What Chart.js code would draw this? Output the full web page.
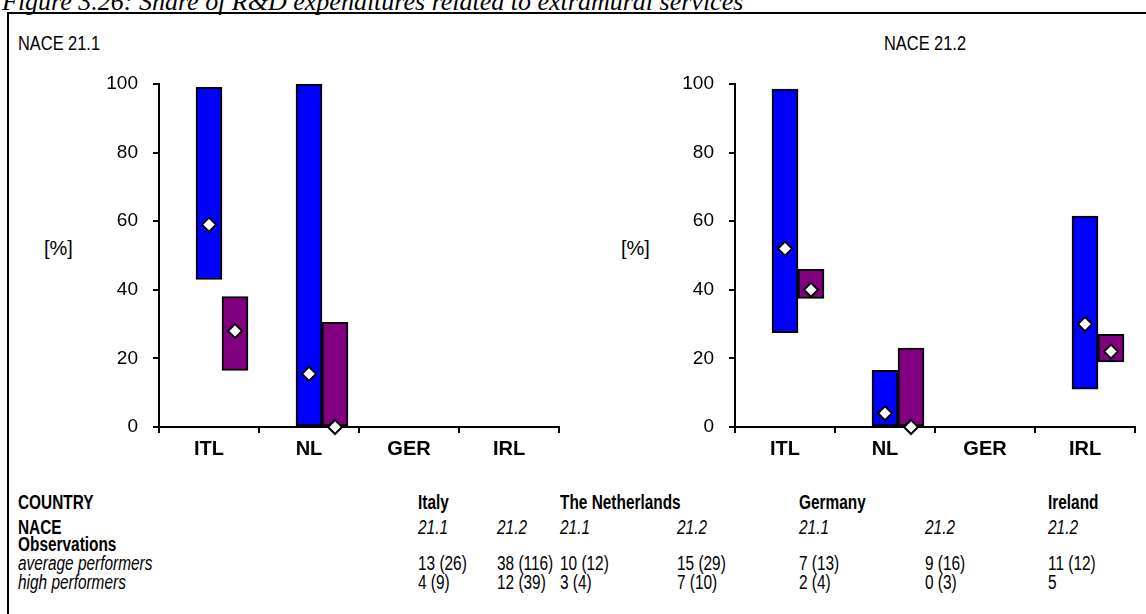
<!DOCTYPE html>
<html>
<head>
<meta charset="utf-8">
<script src="https://cdn.jsdelivr.net/npm/chart.js@4.4.1/dist/chart.umd.min.js"></script>
<style>
  body { margin: 0; width: 1146px; height: 614px; overflow: hidden; background: #fff; position: relative; font-family: 'Liberation Sans', Arial, sans-serif; color: #000; }
  .title { position: absolute; left: 2px; top: -11px; font: italic 26px/26px 'Liberation Serif', 'Times New Roman', serif; white-space: nowrap; }
  .frame { position: absolute; left: 7px; top: 12px; width: 1200px; height: 700px; border-left: 2px solid #000; border-top: 2px solid #000; background: transparent; }
  canvas { position: absolute; top: 0; }
  .lbl { position: absolute; white-space: nowrap; }
  .narrow { transform: scaleX(0.82); transform-origin: left top; font-size: 20px; line-height: 20px; }
  .pct { font-size: 20px; line-height: 20px; }
  .cell { position: absolute; white-space: nowrap; transform: scaleX(0.77); transform-origin: left top; font-size: 20px; line-height: 20px; }
  .b { font-weight: bold; }
  .i { font-style: italic; }
</style>
</head>
<body>
<div class="title">Figure 3.26: Share of R&amp;D expenditures related to extramural services</div>
<div class="frame"></div>
<div class="lbl narrow" style="left:18px; top:33px;">NACE 21.1</div>
<div class="lbl narrow" style="left:884px; top:33px;">NACE 21.2</div>
<div class="lbl pct" style="left:44px; top:238px;">[%]</div>
<div class="lbl pct" style="left:621px; top:238px;">[%]</div>
<canvas id="nace211" width="580" height="480" style="left:0px;"></canvas>
<canvas id="nace212" width="566" height="480" style="left:580px;"></canvas>
<div id="table"></div>
<script>
const categories = ['ITL', 'NL', 'GER', 'IRL'];
const yTicks = [0, 20, 40, 60, 80, 100];

// NACE 21.1 : range (min-max) and mean per country
const avg211Range = [[43, 99], [0, 100], null, null];
const avg211Mean = [59, 15.5, null, null];
const high211Range = [[16.5, 38], [0, 30.5], null, null];
const high211Mean = [28, 0, null, null];

// NACE 21.2
const avg212Range = [[27.5, 98.5], [0, 16.5], null, [11, 61.5]];
const avg212Mean = [52, 4, null, 30];
const high212Range = [[37.5, 46], [0, 23], null, [19, 27]];
const high212Mean = [40, 0, null, 22];

// table below the charts
const countries = ['Italy', 'The Netherlands', 'Germany', 'Ireland'];
const naceCols = ['21.1', '21.2', '21.1', '21.2', '21.1', '21.2', '21.2'];
const avgPerformers = ['13 (26)', '38 (116)', '10 (12)', '15 (29)', '7 (13)', '9 (16)', ' 11 (12)'];
const highPerformers = ['4 (9)', '12 (39)', '3 (4)', '7 (10)', '2 (4)', '0 (3)', '5'];

// one bar = 0.26 of a category; blue sits on the category centre, purple right of it
const barFrac = 0.26;

function toPoints(values, shift) {
  const pts = [];
  values.forEach(function (v, i) {
    if (v !== null) pts.push({ x: i + shift, y: v });
  });
  return pts;
}

function makeChart(id, axisWidth, padRight, avgRange, avgMean, highRange, highMean) {
  const canvas = document.getElementById(id);
  const plotWidth = canvas.width - axisWidth - padRight;
  const barPx = plotWidth / categories.length * barFrac;
  const groupShift = barFrac / 2;
  const diamond = {
    type: 'line',
    pointStyle: 'rectRot',
    pointRadius: 7,
    pointHoverRadius: 7,
    pointBackgroundColor: '#fff',
    pointBorderColor: '#000',
    pointBorderWidth: 2,
    showLine: false,
    clip: false,
    order: 0,
    xAxisID: 'x2'
  };
  const bar = {
    borderColor: '#000',
    borderWidth: 2,
    borderSkipped: false,
    barThickness: barPx,
    clip: false,
    order: 1,
    xAxisID: 'x2'
  };
  return new Chart(canvas.getContext('2d'), {
    type: 'bar',
    data: {
      labels: categories,
      datasets: [
        Object.assign({ label: 'average performers', data: toPoints(avgRange, groupShift), backgroundColor: '#0000ff' }, bar),
        Object.assign({ label: 'high performers', data: toPoints(highRange, groupShift), backgroundColor: '#800080' }, bar),
        Object.assign({ label: 'average mean', data: toPoints(avgMean, 0) }, diamond),
        Object.assign({ label: 'high mean', data: toPoints(highMean, barFrac) }, diamond)
      ]
    },
    options: {
      responsive: false,
      animation: false,
      layout: { padding: { top: 84, right: padRight, left: 0, bottom: 0 } },
      plugins: {
        legend: { display: false },
        tooltip: { enabled: false }
      },
      scales: {
        x: {
          type: 'category',
          offset: true,
          grid: {
            display: true,
            drawOnChartArea: false,
            drawTicks: true,
            tickLength: 6,
            color: '#000',
            lineWidth: 2,
            offset: true
          },
          border: { display: true, color: '#000', width: 2 },
          ticks: {
            color: '#000',
            padding: 4,
            font: { family: "'Liberation Sans', Arial, sans-serif", size: 20, weight: 'bold' }
          },
          afterFit: function (s) { s.height = 53; }
        },
        x2: {
          type: 'linear',
          display: false,
          offset: false,
          grid: { offset: false },
          min: -0.5,
          max: categories.length - 0.5
        },
        y: {
          min: 0,
          max: 100,
          afterBuildTicks: function (s) { s.ticks = yTicks.map(function (v) { return { value: v }; }); },
          grid: {
            display: true,
            drawOnChartArea: false,
            drawTicks: true,
            tickLength: 6,
            color: '#000',
            lineWidth: 2
          },
          border: { display: true, color: '#000', width: 2 },
          ticks: {
            color: '#000',
            padding: 15,
            font: { family: "'Liberation Sans', Arial, sans-serif", size: 19 }
          },
          afterFit: function (s) { s.width = axisWidth; }
        }
      }
    }
  });
}

makeChart('nace211', 159, 21, avg211Range, avg211Mean, high211Range, high211Mean);
makeChart('nace212', 155, 11, avg212Range, avg212Mean, high212Range, high212Mean);

// table
const colX = [418, 497, 560, 677, 799, 925, 1048];
const countryCol = [0, 2, 4, 6];
const rowTop = [492, 517, 534, 553, 572];
const table = document.getElementById('table');
function cell(text, x, y, cls) {
  const d = document.createElement('div');
  d.className = 'cell ' + (cls || '');
  d.style.left = x + 'px';
  d.style.top = y + 'px';
  d.textContent = text;
  table.appendChild(d);
}
cell('COUNTRY', 18, rowTop[0], 'b');
countries.forEach(function (c, i) { cell(c, colX[countryCol[i]], rowTop[0], 'b'); });
cell('NACE', 18, rowTop[1], 'b');
naceCols.forEach(function (n, i) { cell(n, colX[i], rowTop[1], 'i'); });
cell('Observations', 18, rowTop[2], 'b');
cell('average performers', 18, rowTop[3], 'i');
avgPerformers.forEach(function (t, i) { cell(t, colX[i], rowTop[3]); });
cell('high performers', 18, rowTop[4], 'i');
highPerformers.forEach(function (t, i) { cell(t, colX[i], rowTop[4]); });
</script>
</body>
</html>
